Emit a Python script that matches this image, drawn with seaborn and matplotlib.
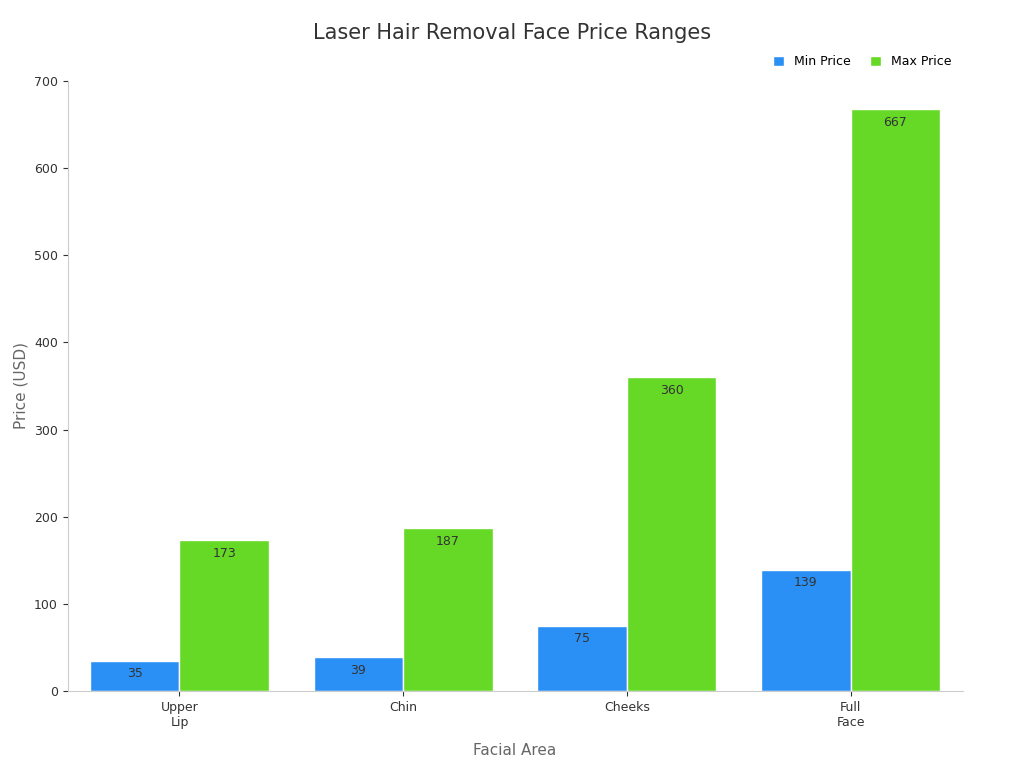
import matplotlib
matplotlib.use("Agg")
import matplotlib.pyplot as plt
import seaborn as sns
import pandas as pd

categories = ["Upper\nLip", "Chin", "Cheeks", "Full\nFace"]
min_price = [35, 39, 75, 139]
max_price = [173, 187, 360, 667]

df = pd.DataFrame({
    "Facial Area": categories * 2,
    "Price": min_price + max_price,
    "Series": ["Min Price"] * 4 + ["Max Price"] * 4,
})

plt.rcParams["font.family"] = "DejaVu Sans"
fig, ax = plt.subplots(figsize=(10.24, 7.68), dpi=100)
sns.barplot(data=df, x="Facial Area", y="Price", hue="Series",
            palette={"Min Price": "#2b90f5", "Max Price": "#66d927"},
            width=0.8, edgecolor="white", linewidth=1, ax=ax, saturation=1)
for c in ax.containers:
    ax.bar_label(c, labels=[f"{int(v)}" for v in c.datavalues], padding=-14,
                 fontsize=9, color="#333333")
ax.set_ylim(0, 700)
ax.set_xlim(-0.5, 3.5)
ax.set_yticks(range(0, 701, 100))
ax.set_xlabel("Facial Area", fontsize=11, color="#666666", labelpad=10)
ax.set_ylabel("Price (USD)", fontsize=11, color="#666666")
ax.tick_params(labelsize=9, colors="#333333")
for s in ["top", "right"]:
    ax.spines[s].set_visible(False)
ax.spines["left"].set_color("#cccccc")
ax.spines["bottom"].set_color("#cccccc")
fig.suptitle("Laser Hair Removal Face Price Ranges", fontsize=15, color="#333333", y=0.97)
ax.legend(loc="upper right", bbox_to_anchor=(1.0, 1.06), ncol=2, frameon=False,
          fontsize=9, handlelength=0.9, handleheight=0.9, columnspacing=1.5)
fig.subplots_adjust(left=0.066, right=0.94, top=0.895, bottom=0.1)
fig.savefig("out.png", dpi=100)
